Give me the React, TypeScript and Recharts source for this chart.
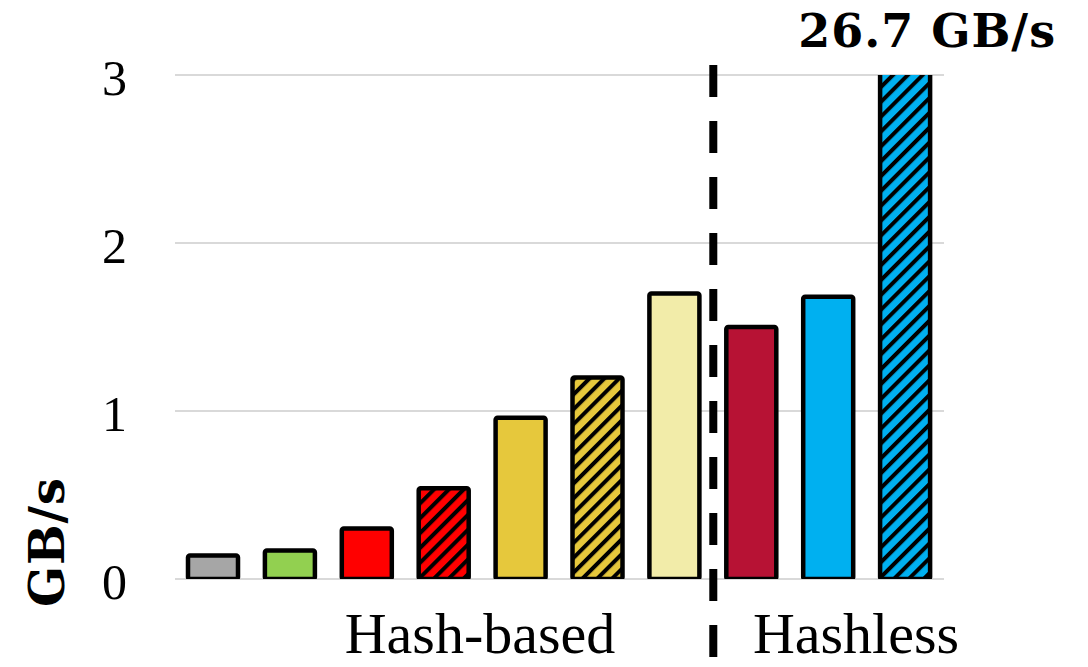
import React from "react";
import {
  BarChart,
  Bar,
  Cell,
  XAxis,
  YAxis,
  CartesianGrid,
  ReferenceLine,
  LabelList,
} from "recharts";

// throughput per configuration, GB/s (last one goes off the scale)
const values = [0.14, 0.17, 0.3, 0.54, 0.96, 1.2, 1.7, 1.5, 1.68, 26.7];
const fills = [
  "#a6a6a6",
  "#92d050",
  "#ff0000",
  "#ff0000",
  "#e6c83c",
  "#e6c83c",
  "#f2eca9",
  "#b71234",
  "#00b0f0",
  "#00b0f0",
];
const hatched = [false, false, false, true, false, true, false, false, false, true];
const yTicks = [0, 1, 2, 3];
const groupLabels = ["Hash-based", "Hashless"];
const yMax = 3;

const data = values.map((v, i) => ({ pos: i, value: v }));

const patternId = (color: string) => "hatch-" + color.replace("#", "");

const SERIF = "'Liberation Serif', 'Times New Roman', serif";
const BOLD_SERIF = "'DejaVu Serif', Georgia, serif";

function YTick({ y, payload }: any) {
  return (
    <text
      x={127}
      y={y}
      dy={20}
      textAnchor="end"
      fontFamily={SERIF}
      fontSize={50}
      fill="#000"
    >
      {payload.value}
    </text>
  );
}

// only bars that run past the axis get their real value printed
function OverflowLabel(props: any) {
  const { x, width, value } = props;
  if (value <= yMax) return null;
  return (
    <text
      x={x + width / 2 + 22}
      y={47}
      textAnchor="middle"
      fontFamily={BOLD_SERIF}
      fontWeight="bold"
      fontSize={46}
      letterSpacing={1}
      fill="#000"
    >
      {`${value} GB/s`}
    </text>
  );
}

export default function App() {
  const hatchColors = Array.from(
    new Set(fills.filter((_, i) => hatched[i]))
  );
  return (
    <div
      style={{
        position: "absolute",
        left: 0,
        top: 0,
        width: 1088,
        height: 667,
        background: "#fff",
      }}
    >
      <BarChart
        width={1088}
        height={667}
        data={data}
        margin={{ top: 75, right: 144, bottom: 88, left: 0 }}
      >
        <defs>
          {hatchColors.map((c) => (
            <pattern
              key={c}
              id={patternId(c)}
              patternUnits="userSpaceOnUse"
              width={10.5}
              height={10.5}
              patternTransform="rotate(45)"
            >
              <rect width={10.5} height={10.5} fill={c} />
              <rect width={4} height={10.5} fill="#000" />
            </pattern>
          ))}
        </defs>
        <CartesianGrid
          horizontal={true}
          vertical={false}
          stroke="#d9d9d9"
          strokeWidth={2}
        />
        <XAxis
          type="number"
          dataKey="pos"
          domain={[-0.5, 9.5]}
          allowDataOverflow
          hide
        />
        <YAxis
          width={175}
          domain={[0, yMax]}
          ticks={yTicks}
          allowDataOverflow
          axisLine={false}
          tickLine={false}
          tick={<YTick />}
        />
        <Bar
          dataKey="value"
          barSize={50}
          stroke="#000"
          strokeWidth={4.5}
          radius={2}
          isAnimationActive={false}
        >
          {data.map((d, i) => (
            <Cell
              key={i}
              fill={hatched[i] ? `url(#${patternId(fills[i])})` : fills[i]}
            />
          ))}
          <LabelList dataKey="value" content={<OverflowLabel />} />
        </Bar>
        <ReferenceLine
          segment={[
            { x: 6.5, y: 3.06 },
            { x: 6.5, y: -0.464 },
          ]}
          stroke="#000"
          strokeWidth={8}
          strokeDasharray="32 24"
          ifOverflow="visible"
        />
        <text
          x={64}
          y={542}
          transform="rotate(-90, 64, 542)"
          textAnchor="middle"
          fontFamily={BOLD_SERIF}
          fontWeight="bold"
          fontSize={48}
          letterSpacing={1}
          fill="#000"
        >
          GB/s
        </text>
        <text
          x={480}
          y={653}
          textAnchor="middle"
          fontFamily={SERIF}
          fontSize={58}
          fill="#000"
        >
          {groupLabels[0]}
        </text>
        <text
          x={856}
          y={653}
          textAnchor="middle"
          fontFamily={SERIF}
          fontSize={58}
          fill="#000"
        >
          {groupLabels[1]}
        </text>
      </BarChart>
    </div>
  );
}
